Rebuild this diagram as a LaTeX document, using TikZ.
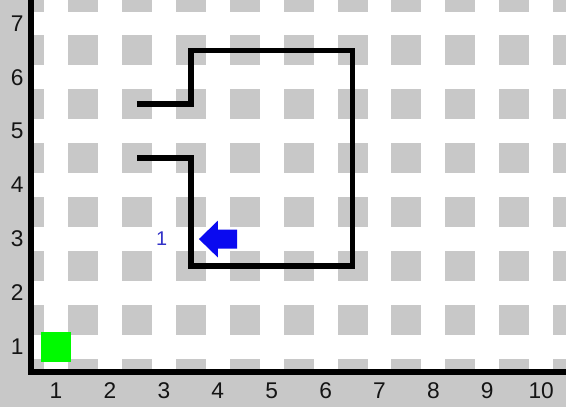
\documentclass[tikz,border=0pt]{standalone}
\usepackage{fontspec}
\setmainfont{Liberation Sans}
\definecolor{bggray}{RGB}{200,200,200}
\definecolor{sqgray}{RGB}{200,200,200}
\definecolor{startgreen}{RGB}{0,250,0}
\definecolor{robotblue}{RGB}{10,10,240}
\definecolor{numblue}{RGB}{50,50,200}
\definecolor{labelcol}{RGB}{20,20,20}
\begin{document}
\begin{tikzpicture}[x=1cm,y=1cm,
  wall/.style={line width=3pt, line cap=butt, line join=miter},
  axisline/.style={line width=3pt, line join=miter},
  axlbl/.style={font=\fontsize{12}{12}\selectfont, text=labelcol, inner sep=0pt},
  numlbl/.style={font=\fontsize{10.5}{10}\selectfont, text=numblue, inner sep=0pt},
  cellsq/.style={fill=sqgray}]
\useasboundingbox (-0.04,-0.115) rectangle (10.46,7.435);
\fill[bggray] (-0.04,-0.115) rectangle (10.46,7.435);
\fill[white] (0.535,0.535) rectangle (10.46,7.435);
\begin{scope}
\clip (0.535,0.535) rectangle (10.46,7.435);
\foreach \i in {0,...,10} {
  \foreach \j in {0,...,7} {
    \fill[cellsq] (\i+0.2215,\j+0.2215) rectangle ++(0.557,0.557);
  }
}
\end{scope}
\draw[axisline] (0.535,7.5) -- (0.535,0.535) -- (10.5,0.535);
\foreach \k in {1,...,10} { \node[axlbl] (xl\k) at (\k,0.19) {\k}; }
\foreach \k in {1,...,7} { \node[axlbl] (yl\k) at (0.28,\k) {\k}; }
\node[fill=startgreen, minimum size=0.557cm, inner sep=0pt] (start) at (1,1) {};
\draw[wall] (2.5,5.5) -- (3.5,5.5) -- (3.5,6.5) -- (6.5,6.5) -- (6.5,2.5) -- (3.5,2.5) -- (3.5,4.5) -- (2.5,4.5);
\fill[robotblue] (3.65,3) -- (4.0,3.34) -- (4.0,3.175) -- (4.36,3.175) -- (4.36,2.825) -- (4.0,2.825) -- (4.0,2.66) -- cycle;
\node[numlbl] (num) at (2.96,3.0) {1};
\end{tikzpicture}
\end{document}
